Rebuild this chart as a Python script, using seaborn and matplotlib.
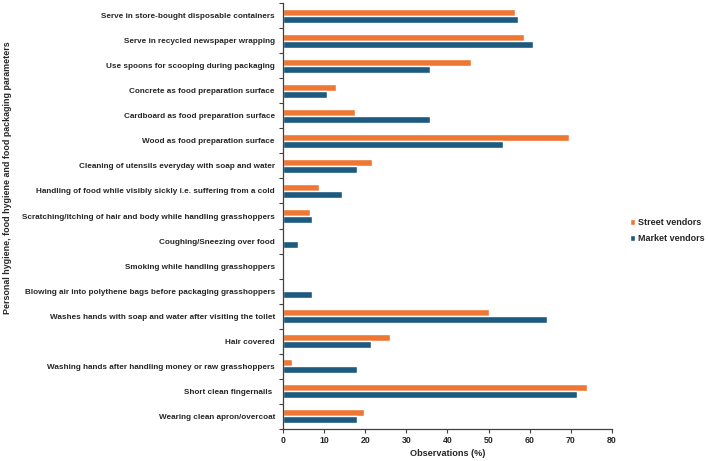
import matplotlib
matplotlib.use("Agg")
import matplotlib.pyplot as plt
import seaborn as sns
import pandas as pd
import numpy as np

categories = [
    "Serve in store-bought disposable containers",
    "Serve in recycled newspaper wrapping",
    "Use spoons for scooping during packaging",
    "Concrete as food preparation surface",
    "Cardboard as food preparation surface",
    "Wood as food preparation surface",
    "Cleaning of utensils everyday with soap and water",
    "Handling of food while visibly sickly i.e. suffering from a cold",
    "Scratching/itching of hair and body while handling grasshoppers",
    "Coughing/Sneezing over food",
    "Smoking while handling grasshoppers",
    "Blowing air into polythene bags before packaging grasshoppers",
    "Washes hands with soap and water after visiting the toilet",
    "Hair covered",
    "Washing hands after handling money or raw grasshoppers",
    "Short clean fingernails ",
    "Wearing clean apron/overcoat",
]
street_vendors = [56.5, 58.7, 45.7, 13.0, 17.4, 69.6, 21.7, 8.7, 6.5, 0.0, 0.0, 0.0, 50.0, 26.1, 2.2, 73.9, 19.6]
market_vendors = [57.1, 60.7, 35.7, 10.7, 35.7, 53.6, 17.9, 14.3, 7.1, 3.6, 0.0, 7.1, 64.3, 21.4, 17.9, 71.4, 17.9]
series_names = ["Street vendors", "Market vendors"]
x_ticks = [0, 10, 20, 30, 40, 50, 60, 70, 80]

df = pd.DataFrame({
    "Parameter": categories * 2,
    "Value": street_vendors + market_vendors,
    "Group": [series_names[0]] * len(categories) + [series_names[1]] * len(categories),
})

sns.set_theme(style="white")
plt.rcParams["font.family"] = ["Liberation Sans", "DejaVu Sans"]
plt.rcParams["font.weight"] = "bold"

fig = plt.figure(figsize=(7.08, 4.61), dpi=100)
ax = fig.add_axes([0.3997, 0.0694, 0.8644 - 0.3997, 0.9935 - 0.0694])

sns.barplot(data=df, y="Parameter", x="Value", hue="Group", orient="h",
            palette={"Street vendors": "#EE7734", "Market vendors": "#1C5A80"},
            width=0.56, saturation=1, ax=ax, order=categories,
            hue_order=series_names)

ax.set_xlim(0, 80)
ax.set_ylim(len(categories) - 0.5, -0.5)
ax.set_xticks(x_ticks)
ax.set_xticklabels([str(t) for t in x_ticks], fontsize=6.3, fontweight="bold")
ax.set_yticks(range(len(categories)))
ax.set_yticklabels(categories, fontsize=5.9, fontweight="bold")
ax.set_yticks(np.arange(-0.5, len(categories), 1.0), minor=True)
ax.tick_params(axis="y", which="major", length=0, pad=5.8)
ax.tick_params(axis="y", which="minor", length=3, width=0.8, color="#404040", direction="out", left=True)
ax.tick_params(axis="x", which="major", length=3, width=0.8, color="#404040", direction="out", bottom=True, pad=2)

for s in ["top", "right"]:
    ax.spines[s].set_visible(False)
for s in ["left", "bottom"]:
    ax.spines[s].set_color("#404040")
    ax.spines[s].set_linewidth(0.9)

ax.set_xlabel("Observations (%)", fontsize=6.6, fontweight="bold", labelpad=3)
ax.set_ylabel("")
fig.text(0.011, 0.615, "Personal hygiene, food hygiene and food packaging parameters",
         rotation=90, va="center", ha="center", fontsize=6.4, fontweight="bold")

leg = ax.legend(loc="center left", bbox_to_anchor=(1.03, 0.466), frameon=False,
                fontsize=6.5, handlelength=0.6, handleheight=0.6, handletextpad=0.3,
                labelspacing=0.8)
for t in leg.get_texts():
    t.set_fontweight("bold")

fig.savefig("out.png", dpi=100)
